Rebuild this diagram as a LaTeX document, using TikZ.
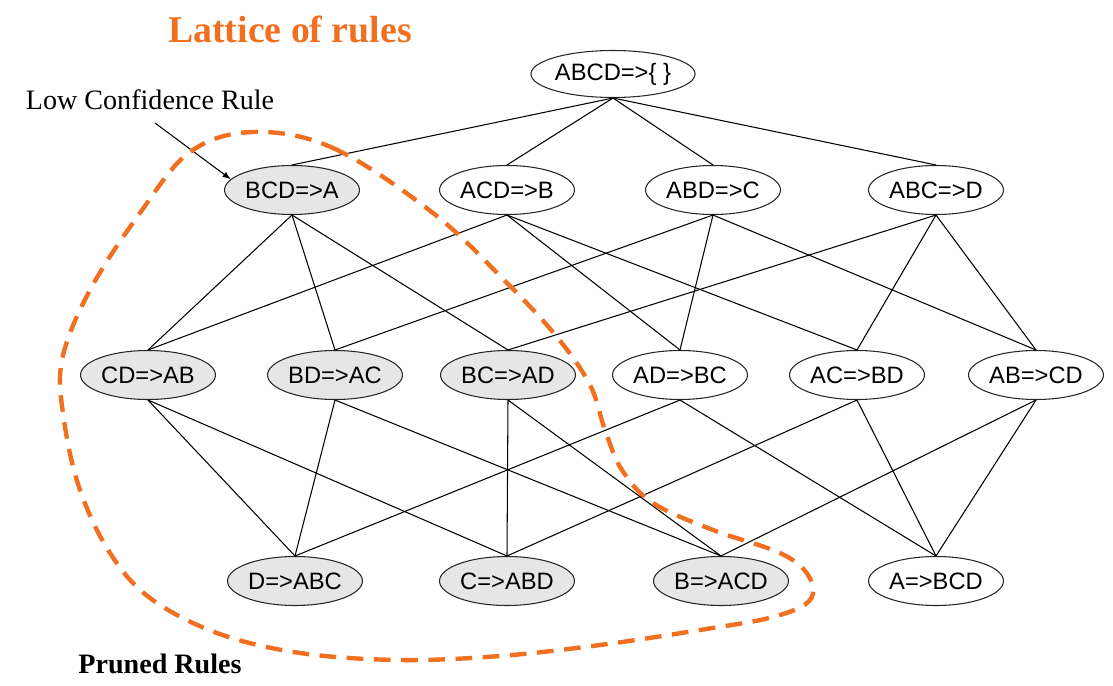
\documentclass[tikz,border=0pt]{standalone}
\usepackage{fontspec}
\setmainfont{Liberation Serif}
\newfontfamily\rulefont{Liberation Sans}
\usetikzlibrary{arrows, shapes.geometric, positioning}
\definecolor{mooc}{RGB}{240,112,32}
\definecolor{prunedgray}{RGB}{230,230,230}

\begin{document}
\begin{tikzpicture}[x=0.02cm, y=-0.02cm,
  rulenode/.style={ellipse, draw=black!85, line width=0.6pt, minimum width=2.7cm, minimum height=0.98cm, inner sep=0pt, font=\rulefont\fontsize{13.5}{15}\selectfont},
  prunednode/.style={rulenode, fill=prunedgray},
  edge/.style={line width=0.6pt}]
\useasboundingbox (0,0) rectangle (1113,686);
\node[anchor=base, text=mooc, font=\bfseries\fontsize{21.5}{24}\selectfont] (title) at (290,43) {Lattice of rules};
\node[anchor=base, font=\fontsize{16}{18}\selectfont] (lowconf) at (150,110) {Low Confidence Rule};
\node[anchor=base, font=\bfseries\fontsize{16}{18}\selectfont] (prunedlbl) at (160,673) {Pruned Rules};
% lattice
\node[rulenode, minimum width=3.28cm, minimum height=0.94cm] (top) at (613,74) {ABCD=>\{ \}};
\node[prunednode] (bcd) at (292,190) {BCD=>A};
\node[rulenode] (acd) at (507,190) {ACD=>B};
\node[rulenode] (abd) at (713,190) {ABD=>C};
\node[rulenode] (abc) at (936,190) {ABC=>D};
\node[prunednode] (cd) at (148,375) {CD=>AB};
\node[prunednode] (bd) at (335,375) {BD=>AC};
\node[prunednode] (bc) at (508,375) {BC=>AD};
\node[rulenode] (ad) at (680,375) {AD=>BC};
\node[rulenode] (ac) at (857,375) {AC=>BD};
\node[rulenode] (ab) at (1036,375) {AB=>CD};
\node[prunednode] (d) at (295,581) {D=>ABC};
\node[prunednode] (c) at (507,581) {C=>ABD};
\node[prunednode] (b) at (721,581) {B=>ACD};
\node[rulenode] (a) at (936,581) {A=>BCD};
\foreach \u/\v in {top/bcd, top/acd, top/abd, top/abc,
  bcd/cd, bcd/bd, bcd/bc, acd/cd, acd/ad, acd/ac,
  abd/bd, abd/ad, abd/ab, abc/bc, abc/ac, abc/ab,
  cd/d, cd/c, bd/d, bd/b, bc/c, bc/b,
  ad/d, ad/a, ac/c, ac/a, ab/b, ab/a}
  \draw[edge] (\u.south) -- (\v.north);
\coordinate (arrstart) at (155,123);
\draw[-latex, line width=0.6pt] (arrstart) -- (bcd.170);
% pruned region
\draw[mooc, line width=2.5pt, dash pattern=on 9.5pt off 6pt]
  plot[smooth cycle, tension=0.6] coordinates {(253,132) (333,148) (433,213) (507,283) (557,337) (590,385) (605,430) (622,470) (653,503) (713,530) (780,553) (808,575) (810,600) (773,617) (700,630) (600,645) (500,656) (400,660) (300,653) (217,633) (150,598) (110,553) (80,490) (64,420) (62,360) (90,290) (140,213) (190,152)};
\end{tikzpicture}
\end{document}
